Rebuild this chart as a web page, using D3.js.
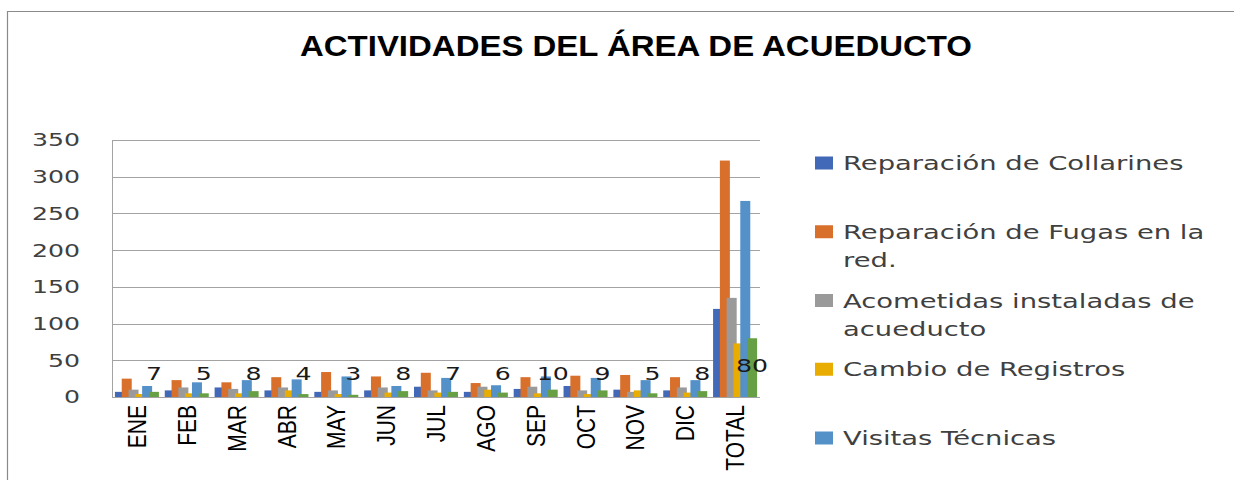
<!DOCTYPE html>
<html>
<head>
<meta charset="utf-8">
<script src="https://cdn.jsdelivr.net/npm/d3@7"></script>
<style>
  html, body { margin: 0; padding: 0; background: #fff; }
  svg { display: block; }
</style>
</head>
<body>
<svg id="chart" width="1234" height="480"></svg>
<script>
// ---------- DATA ----------
const categories = ["ENE","FEB","MAR","ABR","MAY","JUN","JUL","AGO","SEP","OCT","NOV","DIC","TOTAL"];
const seriesKeys = ["collarines","fugas","acometidas","registros","visitas","serie6"];
const collarines = [7, 9, 13, 9, 7, 9, 14, 7, 11, 15, 10, 9, 120];
const fugas      = [25, 23, 20, 27, 34, 28, 33, 19, 27, 29, 30, 27, 322];
const acometidas = [10, 13, 11, 13, 9, 13, 9, 14, 14, 9, 7, 13, 135];
const registros  = [4, 5, 5, 9, 4, 6, 6, 10, 5, 4, 9, 6, 73];
const visitas    = [15, 20, 23, 24, 28, 15, 26, 16, 28, 26, 23, 23, 267];
const serie6     = [7, 5, 8, 4, 3, 8, 7, 6, 10, 9, 5, 8, 80];
const yTicks = [0, 50, 100, 150, 200, 250, 300, 350];
const legendLines = [
  ["Reparación de Collarines"],
  ["Reparación de Fugas en la", "red."],
  ["Acometidas instaladas de", "acueducto"],
  ["Cambio de Registros"],
  ["Visitas Técnicas"]
];
const title = "ACTIVIDADES DEL ÁREA DE ACUEDUCTO";

const values = { collarines, fugas, acometidas, registros, visitas, serie6 };
const colors = ["#4169B7", "#D8702C", "#9A9A9A", "#E9AC00", "#5591C9", "#67A044"];

// ---------- LAYOUT ----------
const svg = d3.select("#chart");
const plot = { left: 112, right: 760, top: 140, bottom: 397 };
const STRETCH = 1.4;

// outer frame
svg.append("path")
  .attr("d", "M7.5,480 L7.5,11.5 L1234,11.5")
  .attr("fill", "none").attr("stroke", "#8a8a8a").attr("stroke-width", 1.2);

// title
svg.append("text")
  .attr("x", 300).attr("y", 56)
  .attr("textLength", 672).attr("lengthAdjust", "spacingAndGlyphs")
  .style("font-family", "'Liberation Sans Narrow','Liberation Sans',Arial,sans-serif")
  .style("font-weight", "bold").style("font-size", "29px").attr("fill", "#000")
  .text(title);

const x = d3.scaleBand().domain(categories).range([plot.left, plot.right]).padding(0);
const y = d3.scaleLinear().domain([0, 350]).range([plot.bottom, plot.top]);
const inner = d3.scalePoint().domain(seriesKeys).range([-17, 17]);
const barW = 10;

// gridlines
svg.append("g").selectAll("line").data(yTicks).join("line")
  .attr("x1", plot.left).attr("x2", plot.right)
  .attr("y1", d => Math.round(y(d)) + 0.5).attr("y2", d => Math.round(y(d)) + 0.5)
  .attr("stroke", "#a3a3a3").attr("stroke-width", 1);

// left axis line
svg.append("line")
  .attr("x1", plot.left + 0.5).attr("x2", plot.left + 0.5)
  .attr("y1", plot.top).attr("y2", plot.bottom + 1)
  .attr("stroke", "#a3a3a3");

// y tick labels
svg.append("g").selectAll("text").data(yTicks).join("text")
  .attr("transform", d => `translate(80,${y(d)}) scale(${STRETCH},1)`)
  .attr("text-anchor", "end").attr("dy", "0.36em")
  .style("font-family", "'DejaVu Sans',sans-serif").style("font-size", "18px")
  .attr("fill", "#404040")
  .text(d => d);

// bars
seriesKeys.forEach((k, si) => {
  svg.append("g").selectAll("rect").data(categories).join("rect")
    .attr("x", c => x(c) + x.bandwidth() / 2 + inner(k) - barW / 2)
    .attr("width", barW)
    .attr("y", (c, i) => y(values[k][i]))
    .attr("height", (c, i) => y(0) - y(values[k][i]))
    .attr("fill", colors[si]);
});

// bottom axis line
svg.append("line")
  .attr("x1", plot.left).attr("x2", plot.right)
  .attr("y1", plot.bottom + 0.5).attr("y2", plot.bottom + 0.5)
  .attr("stroke", "#a3a3a3");

// data labels (last series)
svg.append("g").selectAll("text").data(categories).join("text")
  .attr("transform", (c, i) => {
    const cx = x(c) + x.bandwidth() / 2 + inner("serie6");
    const by = i === categories.length - 1 ? y(0) - 25 : y(0) - 17;
    return `translate(${cx},${by}) scale(${STRETCH},1)`;
  })
  .attr("text-anchor", "middle")
  .style("font-family", "'DejaVu Sans',sans-serif").style("font-size", "18px")
  .attr("fill", "#1a1a1a")
  .text((c, i) => serie6[i]);

// x category labels (rotated)
svg.append("g").selectAll("text").data(categories).join("text")
  .attr("transform", c => `translate(${x(c) + x.bandwidth() / 2},405) scale(1.2,1) rotate(-90)`)
  .attr("text-anchor", "end").attr("dy", "0.36em")
  .style("font-family", "'Liberation Sans',Arial,sans-serif").style("font-size", "21px")
  .attr("fill", "#000")
  .text(c => c);

// legend
const legend = svg.append("g");
legendLines.forEach((lines, i) => {
  const cy = 163 + i * 68.75;
  legend.append("rect")
    .attr("x", 815).attr("y", cy - 6.5).attr("width", 18).attr("height", 13)
    .attr("fill", colors[i]);
  lines.forEach((t, j) => {
    legend.append("text")
      .attr("transform", `translate(843,${cy + 7 + j * 28}) scale(1.37,1)`)
      .style("font-family", "'DejaVu Sans',sans-serif").style("font-size", "20px")
      .attr("fill", "#404040")
      .text(t);
  });
});
</script>
</body>
</html>
